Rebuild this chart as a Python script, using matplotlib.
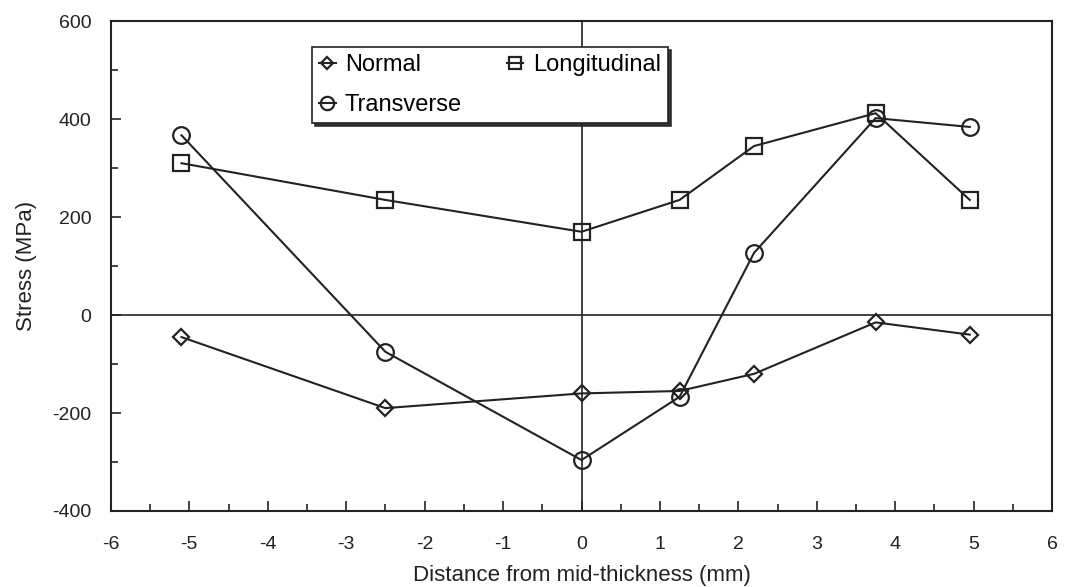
import matplotlib.pyplot as plt
from matplotlib.ticker import MultipleLocator

plt.rcParams['font.family'] = ['Liberation Sans', 'DejaVu Sans']
plt.rcParams['axes.unicode_minus'] = False

# positions through the thickness (mm)
dist = [-5.1, -2.5, 0, 1.25, 2.2, 3.75, 4.95]
normal = [-45, -190, -160, -155, -120, -15, -40]
longitudinal = [310, 235, 170, 235, 345, 412, 235]
transverse = [367, -75, -296, -167, 127, 402, 384]

ink = '#222222'
fig = plt.figure(figsize=(10.66, 5.87), dpi=100)
ax = fig.add_axes([0.104, 0.1295, 0.883, 0.8345])

ax.axhline(0, color=ink, lw=1.2, zorder=1)
ax.axvline(0, color=ink, lw=1.2, zorder=1)

l1, = ax.plot(dist, normal, color=ink, lw=1.5, marker='D', ms=8,
              mfc='none', mec=ink, mew=1.6, label='Normal')
l2, = ax.plot(dist, longitudinal, color=ink, lw=1.5, marker='s', ms=11,
              mfc='none', mec=ink, mew=1.6, label='Longitudinal')
l3, = ax.plot(dist, transverse, color=ink, lw=1.5, marker='o', ms=12,
              mfc='none', mec=ink, mew=1.6, label='Transverse')

ax.set_xlim(-6, 6)
ax.set_ylim(-400, 600)
ax.xaxis.set_major_locator(MultipleLocator(1))
ax.xaxis.set_minor_locator(MultipleLocator(0.5))
ax.yaxis.set_major_locator(MultipleLocator(200))
ax.yaxis.set_minor_locator(MultipleLocator(100))
ax.tick_params(which='both', direction='in', top=False, right=False,
               labelsize=14, colors=ink)
ax.tick_params(axis='x', pad=18)
ax.tick_params(axis='y', pad=14)
ax.tick_params(which='major', length=7, width=1.2)
ax.tick_params(which='minor', length=5, width=1.2)
for s in ax.spines.values():
    s.set_color(ink)
    s.set_linewidth(1.5)

ax.set_xlabel('Distance from mid-thickness (mm)', fontsize=16, color=ink)
ax.set_ylabel('Stress (MPa)', fontsize=16, color=ink)
ax.xaxis.set_label_coords(0.5, -0.11)
ax.yaxis.set_label_coords(-0.079, 0.5)

leg = ax.legend(handles=[l1, l3, l2], ncol=2, loc='upper left',
                bbox_to_anchor=(0.2136, 0.947), fontsize=17, frameon=True,
                fancybox=False, shadow={'color': ink, 'alpha': 0.9},
                edgecolor=ink, handlelength=0.7, markerscale=0.8,
                handletextpad=0.4, columnspacing=1.9, borderpad=0.3,
                labelspacing=0.75, borderaxespad=0)
leg.get_frame().set_linewidth(1.2)
leg.get_frame().set_alpha(1)

fig.savefig('out.png', dpi=100)
